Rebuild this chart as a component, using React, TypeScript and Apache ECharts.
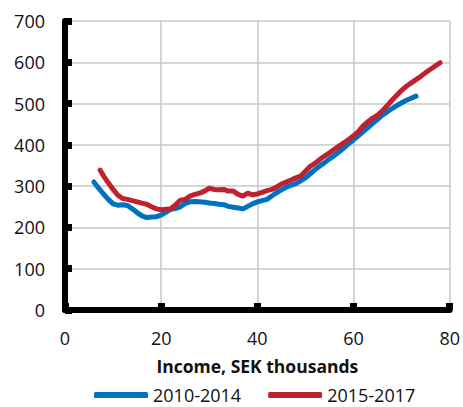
import React, { useEffect, useRef } from "react";
import * as echarts from "echarts";

const seriesNames = ["2010-2014", "2015-2017"];
const axisTitle = "Income, SEK thousands";

const blueX = [6, 7, 8, 9, 10, 11, 12, 13, 14, 15, 16, 17, 18, 19, 20, 21, 22, 23, 24, 25, 26, 27, 28, 29, 30, 31, 32, 33, 34, 35, 36, 37, 38, 39, 40, 41, 42, 43, 44, 45, 46, 47, 48, 49, 50, 51, 52, 53, 54, 55, 56, 57, 58, 59, 60, 61, 62, 63, 64, 65, 66, 67, 68, 69, 70, 71, 72, 73];
const blueY = [310, 295, 281, 268, 257, 254, 255, 253, 245, 236, 228, 224, 225, 226, 230, 237, 244, 246, 250, 258, 262, 263, 262, 261, 259, 258, 256, 255, 251, 249, 247, 245, 251, 257, 262, 265, 268, 276, 284, 291, 297, 302, 306, 313, 320, 330, 340, 349, 357, 366, 374, 383, 393, 403, 412, 422, 432, 442, 452, 462, 472, 480, 488, 495, 502, 508, 513, 518];

const redX = [7.3, 8, 9, 10, 11, 12, 13, 14, 15, 16, 17, 18, 19, 20, 21, 22, 23, 24, 25, 26, 27, 28, 29, 30, 31, 32, 33, 34, 35, 36, 37, 38, 39, 40, 41, 42, 43, 44, 45, 46, 47, 48, 49, 50, 51, 52, 53, 54, 55, 56, 57, 58, 59, 60, 61, 62, 63, 64, 65, 66, 67, 68, 69, 70, 71, 72, 73, 74, 75, 76, 77, 78];
const redY = [339, 325, 308, 292, 278, 270, 268, 265, 262, 259, 256, 250, 245, 243, 244, 245, 255, 266, 268, 276, 280, 283, 288, 295, 292, 291, 292, 288, 288, 280, 276, 283, 279, 281, 285, 289, 292, 298, 305, 310, 315, 320, 324, 336, 348, 355, 365, 373, 381, 389, 397, 405, 413, 422, 432, 446, 456, 465, 472, 482, 495, 508, 520, 532, 542, 550, 558, 566, 575, 583, 591, 599];

const colors = ["#0070C0", "#BE2130"];
const font = "'Open Sans', 'Noto Sans', sans-serif";

export default function App() {
  const ref = useRef<HTMLDivElement>(null);
  useEffect(() => {
    if (!ref.current) return;
    const chart = echarts.init(ref.current, undefined, { renderer: "svg" });
    const axisCommon = {
      axisLine: { show: true, onZero: false, lineStyle: { color: "#000", width: 6 } },
      axisTick: { show: true, inside: true, length: 7, lineStyle: { color: "#000", width: 7 } },
      splitLine: { show: true, lineStyle: { color: "#c9c9c9", width: 1.5 } },
      axisLabel: { color: "#111", fontSize: 18, fontFamily: font },
    };
    chart.setOption({
      animation: false,
      grid: { left: 65, right: 12, top: 21, bottom: 97, containLabel: false },
      xAxis: {
        type: "value",
        min: 0,
        max: 80,
        interval: 20,
        ...axisCommon,
        axisLabel: { ...axisCommon.axisLabel, margin: 19 },
        name: axisTitle,
        nameLocation: "middle",
        nameGap: 47,
        nameTextStyle: { color: "#111", fontSize: 17.5, fontWeight: "bold", fontFamily: font },
      },
      yAxis: {
        type: "value",
        min: 0,
        max: 700,
        interval: 100,
        ...axisCommon,
        axisLabel: { ...axisCommon.axisLabel, margin: 20 },
      },
      legend: {
        left: 94,
        top: 385,
        padding: 0,
        itemWidth: 54,
        itemHeight: 6,
        itemGap: 27,
        icon: "roundRect",
        textStyle: { color: "#111", fontSize: 18, fontFamily: font, lineHeight: 20 },
        data: seriesNames,
      },
      series: [
        {
          name: seriesNames[0],
          type: "line",
          showSymbol: false,
          symbol: "none",
          color: colors[0],
          lineStyle: { width: 5, color: colors[0], cap: "round", join: "round" },
          data: blueX.map((x, i) => [x, blueY[i]]),
        },
        {
          name: seriesNames[1],
          type: "line",
          showSymbol: false,
          symbol: "none",
          color: colors[1],
          lineStyle: { width: 5, color: colors[1], cap: "round", join: "round" },
          data: redX.map((x, i) => [x, redY[i]]),
        },
      ],
    });
    return () => chart.dispose();
  }, []);
  return <div ref={ref} style={{ width: 463, height: 407, position: "absolute", left: 0, top: 0 }} />;
}
